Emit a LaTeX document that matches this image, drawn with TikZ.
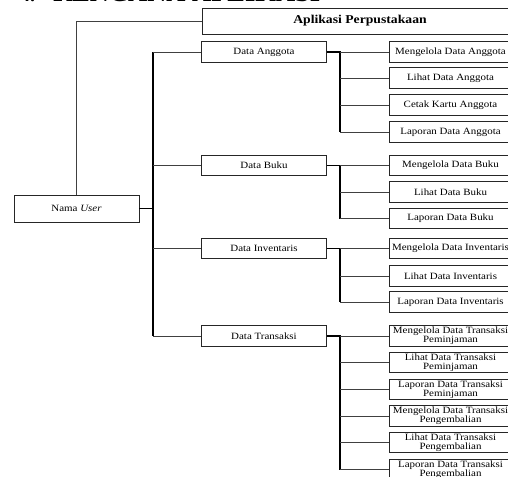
\documentclass[tikz,border=0pt]{standalone}
\usepackage{fontspec}
\setmainfont{Liberation Serif}
\newfontfamily\bxfont[FakeStretch=1.14]{Liberation Serif}
\begin{document}
\begin{tikzpicture}[x=1pt,y=-1pt,
  box/.style={draw=black!85, line width=0.8pt, rectangle, inner sep=0pt, align=center,
    font=\bxfont\fontsize{9.6}{9.2}\selectfont},
  pbox/.style={box, minimum width=125pt, minimum height=20.5pt},
  cbox/.style={box, minimum width=123pt, minimum height=20.5pt},
  link/.style={draw=black!75, line width=0.8pt},
  bus/.style={draw=black, line width=1.3pt},
]
\clip (0,0) rectangle (508,476);
\useasboundingbox (0,0) rectangle (508,476);
\fill[white] (0,0) rectangle (508,476);

% cut-off heading
\node[anchor=base west, inner sep=0pt, font=\bfseries\fontsize{20}{20}\selectfont] (hnum) at (20,1.5) {4.};
\node[anchor=base west, inner sep=0pt] (htitle) at (53,1.5) {\resizebox{267pt}{!}{\bfseries RENCANA APLIKASI}};

% root and user
\node[box, minimum width=316pt, minimum height=26pt, font=\bxfont\bfseries\fontsize{12}{12}\selectfont] (app) at (360,21) {Aplikasi Perpustakaan};
\node[box, minimum width=125pt, minimum height=27pt] (user) at (76.5,208.5) {Nama \textit{User}};

% second level
\node[pbox] (anggota) at (264,52) {Data Anggota};
\node[pbox] (buku) at (264,165.5) {Data Buku};
\node[pbox] (inv) at (264,248.5) {Data Inventaris};
\node[pbox] (trans) at (264,336) {Data Transaksi};

% third level
\node[cbox] (a1) at (450.5,52) {Mengelola Data Anggota};
\node[cbox] (a2) at (450.5,78) {Lihat Data Anggota};
\node[cbox] (a3) at (450.5,105) {Cetak Kartu Anggota};
\node[cbox] (a4) at (450.5,132) {Laporan Data Anggota};

\node[cbox] (b1) at (450.5,165.5) {Mengelola Data Buku};
\node[cbox] (b2) at (450.5,192) {Lihat Data Buku};
\node[cbox] (b3) at (450.5,218.5) {Laporan Data Buku};

\node[cbox] (i1) at (450.5,248.5) {Mengelola Data Inventaris};
\node[cbox] (i2) at (450.5,276) {Lihat Data Inventaris};
\node[cbox] (i3) at (450.5,302) {Laporan Data Inventaris};

\node[cbox] (t1) at (450.5,336) {Mengelola Data Transaksi\\Peminjaman};
\node[cbox] (t2) at (450.5,362.5) {Lihat Data Transaksi\\Peminjaman};
\node[cbox] (t3) at (450.5,389.5) {Laporan Data Transaksi\\Peminjaman};
\node[cbox] (t4) at (450.5,416) {Mengelola Data Transaksi\\Pengembalian};
\node[cbox] (t5) at (450.5,442.5) {Lihat Data Transaksi\\Pengembalian};
\node[cbox] (t6) at (450.5,469.5) {Laporan Data Transaksi\\Pengembalian};

% root to user
\draw[link] (app.west) -| (user.north);

% user to bus
\coordinate (ub) at (153,0);
\draw[bus] (user.east) -- (user.east -| ub);
\draw[bus] (anggota.west -| ub) -- (trans.west -| ub);
\foreach \p in {anggota,buku,inv,trans}
  \draw[link] (\p.west -| ub) -- (\p.west);

% groups
\coordinate (gb) at (340,0);
\draw[bus] (anggota.east) -- (anggota.east -| gb) -- (a4.west -| gb);
\foreach \c in {a1,a2,a3,a4} \draw[link] (\c.west -| gb) -- (\c.west);

\draw[bus] (buku.east) -- (buku.east -| gb) -- (b3.west -| gb);
\foreach \c in {b1,b2,b3} \draw[link] (\c.west -| gb) -- (\c.west);

\draw[bus] (inv.east) -- (inv.east -| gb) -- (i3.west -| gb);
\foreach \c in {i1,i2,i3} \draw[link] (\c.west -| gb) -- (\c.west);

\draw[bus] (trans.east) -- (trans.east -| gb) -- (t6.west -| gb);
\foreach \c in {t1,t2,t3,t4,t5,t6} \draw[link] (\c.west -| gb) -- (\c.west);
\end{tikzpicture}
\end{document}
